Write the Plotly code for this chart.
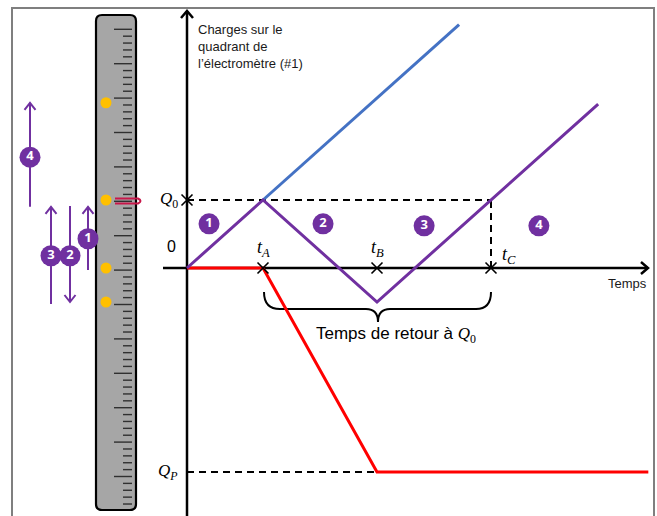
import plotly.graph_objects as go

# ---------------- data (time in units of t_A, charge in units of Q0) ----------------
t_purple = [0, 1, 2.5, 4, 5.41]
q_purple = [0, 1, -0.5, 1, 2.41]
t_blue = [1, 3.58]
q_blue = [1, 3.58]
t_red = [0, 1, 2.5, 6.07]
q_red = [0, 0, -3, -3]
event_labels = ["t<sub>A</sub>", "t<sub>B</sub>", "t<sub>C</sub>"]
event_times = [1, 2.5, 4]
Q0 = 1
QP = -3
gauge_dot_levels = [2.43, 1, 0, -0.5]
phase_labels = ["1", "2", "3", "4"]
phase_label_t = [0.29, 1.79, 3.12, 4.63]
phase_label_q = [0.65, 0.65, 0.62, 0.62]
# charge jumps shown beside the electrometer (phase -> start, end)
jump_start = [-0.03, 0.91, -0.53, 0.90]
jump_end = [0.90, -0.50, 0.90, 2.43]
jump_label_q = [0.43, 0.18, 0.18, 1.63]

# ---------------- geometry of the drawing ----------------
W, H = 657, 516
X0, SX = 187, 76.0     # pixel of t=0, pixels per time unit
Y0, SY = 268, 68.0     # pixel of Q=0, pixels per charge unit
def tx(px):
    return (px - X0) / SX
def px_of_t(t):
    return X0 + SX * t
def py_of_q(q):
    return Y0 - SY * q

jump_x = [tx(88), tx(70), tx(51), tx(30)]

PURPLE = "#7030a0"
BLUE = "#4472c4"
RED = "#ff0000"
SANS = "Liberation Sans, Arial, sans-serif"
SERIF = "Liberation Serif, DejaVu Serif, serif"

fig = go.Figure()

# dashed guide lines
dash = dict(color="black", width=2, dash="7px,5px")
fig.add_trace(go.Scatter(x=[0, event_times[2]], y=[Q0, Q0], mode="lines", line=dash, hoverinfo="skip"))
fig.add_trace(go.Scatter(x=[event_times[2], event_times[2]], y=[0, Q0], mode="lines", line=dash, hoverinfo="skip"))
fig.add_trace(go.Scatter(x=[0, t_red[2]], y=[QP, QP], mode="lines", line=dash, hoverinfo="skip"))

# curves
fig.add_trace(go.Scatter(x=t_blue, y=q_blue, mode="lines", line=dict(color=BLUE, width=3), hoverinfo="skip"))
fig.add_trace(go.Scatter(x=t_red, y=q_red, mode="lines", line=dict(color=RED, width=3), hoverinfo="skip"))
fig.add_trace(go.Scatter(x=t_purple, y=q_purple, mode="lines", line=dict(color=PURPLE, width=3), hoverinfo="skip"))

# crosses
fig.add_trace(go.Scatter(x=[0] + event_times, y=[Q0, 0, 0, 0], mode="markers",
                         marker=dict(symbol="x-thin", size=11, line=dict(color="black", width=1.6)),
                         hoverinfo="skip"))

circle_font = dict(color="white", size=13, family="Open Sans, sans-serif", weight="bold")
# phase labels in the graph
fig.add_trace(go.Scatter(x=phase_label_t, y=phase_label_q, mode="markers+text", text=phase_labels,
                         textposition="middle center", textfont=circle_font,
                         marker=dict(color=PURPLE, size=21, line=dict(width=0)), hoverinfo="skip"))

# ---------------- decoration in pixel space (x2 / y2), drawn below traces ----------------
shapes = []
def add_shape(**kw):
    kw.setdefault("xref", "x2")
    kw.setdefault("yref", "y2")
    kw.setdefault("layer", "below")
    shapes.append(kw)

# outer frame
add_shape(type="rect", x0=12, y0=8, x1=654, y1=530, line=dict(color="#7f7f7f", width=2))
# electrometer gauge body (rounded)
gx0, gx1, gy0, gy1, r = 96, 136, 15, 510, 6
gpath = (f"M{gx0+r},{gy0} L{gx1-r},{gy0} Q{gx1},{gy0} {gx1},{gy0+r} L{gx1},{gy1-r} "
         f"Q{gx1},{gy1} {gx1-r},{gy1} L{gx0+r},{gy1} Q{gx0},{gy1} {gx0},{gy1-r} "
         f"L{gx0},{gy0+r} Q{gx0},{gy0} {gx0+r},{gy0} Z")
add_shape(type="path", path=gpath, fillcolor="#a6a6a6", line=dict(color="black", width=2.2))
# gauge graduations
step = 34.4 / 5
k = 0
while True:
    yy = 29.3 + k * step
    if yy > 506:
        break
    major = (k % 5 == 0)
    add_shape(type="line", x0=114 if major else 123, x1=132, y0=yy, y1=yy,
              line=dict(color="#303030", width=1.4))
    k += 1
# pointer
add_shape(type="path", path="M115,198.5 L138,198.5 Q143,201 138,203.5 L115,203.5",
          line=dict(color="#c8174a", width=2))
# axes
add_shape(type="line", x0=X0, x1=X0, y0=520, y1=11, line=dict(color="black", width=2.5))
add_shape(type="line", x0=163, x1=648, y0=Y0, y1=Y0, line=dict(color="black", width=2.5))
add_shape(type="path", path=f"M{X0-6},18 L{X0},11 L{X0+6},18", line=dict(color="black", width=2.5))
add_shape(type="path", path=f"M641,{Y0-6} L648,{Y0} L641,{Y0+6}", line=dict(color="black", width=2.5))
# brace
bpath = ("M264,292 Q264,309 280,309 L366,309 Q378,309 378,322 "
         "Q378,309 390,309 L476,309 Q491,309 491,292")
add_shape(type="path", path=bpath, line=dict(color="black", width=2))

# charge-jump arrows beside the gauge
for xj, a, b in zip(jump_x, jump_start, jump_end):
    add_shape(type="line", xref="x", yref="y", x0=xj, x1=xj, y0=a, y1=b,
              line=dict(color=PURPLE, width=2))
    hx, hy = px_of_t(xj), py_of_q(b)
    sgn = 1 if b > a else -1
    add_shape(type="path", path=f"M{hx-5.5},{hy+7*sgn} L{hx},{hy} L{hx+5.5},{hy+7*sgn}",
              line=dict(color=PURPLE, width=2))

fig.update_layout(shapes=shapes)

# gauge dots (charge levels), on main axes
fig.add_trace(go.Scatter(x=[tx(106)] * len(gauge_dot_levels), y=gauge_dot_levels, mode="markers",
                         marker=dict(color="#ffc000", size=11, line=dict(width=0)), hoverinfo="skip"))

fig.add_trace(go.Scatter(x=jump_x, y=jump_label_q, mode="markers+text", text=phase_labels,
                         textposition="middle center", textfont=circle_font,
                         marker=dict(color=PURPLE, size=21, line=dict(width=0)), hoverinfo="skip"))

annotations = []
# text labels
annotations.append(dict(x=196, y=20, xref="x2", yref="y2", xanchor="left", yanchor="top", align="left",
                        text="Charges sur le<br>quadrant de<br>l’électromètre (#1)", showarrow=False,
                        font=dict(family=SANS, size=13, color="#1a1a1a")))
annotations.append(dict(x=627, y=283, xref="x2", yref="y2", text="Temps", showarrow=False,
                        font=dict(family=SANS, size=13, color="#1a1a1a")))
annotations.append(dict(x=-0.09, y=Q0, xref="x", yref="y", xanchor="right", text="<i>Q</i><sub>0</sub>",
                        showarrow=False, font=dict(family=SERIF, size=17, color="black")))
annotations.append(dict(x=-0.09, y=QP, xref="x", yref="y", xanchor="right", text="<i>Q</i><sub><i>P</i></sub>",
                        showarrow=False, font=dict(family=SERIF, size=17, color="black")))
annotations.append(dict(x=171, y=246, xref="x2", yref="y2", text="0", showarrow=False,
                        font=dict(family=SANS, size=16, color="black")))
ev_px = [(0, 20), (0, 20), (18, 13)]
for lab, tt, (dx, dy) in zip(event_labels, event_times, ev_px):
    annotations.append(dict(x=tt, y=0, xref="x", yref="y", xshift=dx, yshift=dy,
                            text=f"<i>{lab}</i>", showarrow=False,
                            font=dict(family=SERIF, size=18, color="black")))
annotations.append(dict(x=396, y=335, xref="x2", yref="y2", showarrow=False,
                        text="Temps de retour à <span style='font-family:Liberation Serif'><i>Q</i><sub>0</sub></span>",
                        font=dict(family=SANS, size=17, color="black")))
fig.update_layout(annotations=annotations)

fig.update_layout(
    width=W, height=H, autosize=False,
    margin=dict(l=0, r=0, t=0, b=0),
    paper_bgcolor="white", plot_bgcolor="rgba(0,0,0,0)",
    showlegend=False,
    xaxis=dict(range=[tx(0), tx(W)], visible=False, fixedrange=True),
    yaxis=dict(range=[(Y0 - H) / SY, Y0 / SY], visible=False, fixedrange=True),
    xaxis2=dict(range=[0, W], overlaying="x", visible=False, fixedrange=True),
    yaxis2=dict(range=[H, 0], overlaying="y", visible=False, fixedrange=True),
)
# a dummy trace so the pixel axes exist
fig.add_trace(go.Scatter(x=[0], y=[0], xaxis="x2", yaxis="y2", mode="markers",
                         marker=dict(opacity=0), hoverinfo="skip"))

fig.write_html("out.html", config={"displayModeBar": False},
               post_script="document.body.style.margin='0';document.body.style.overflow='hidden';")
